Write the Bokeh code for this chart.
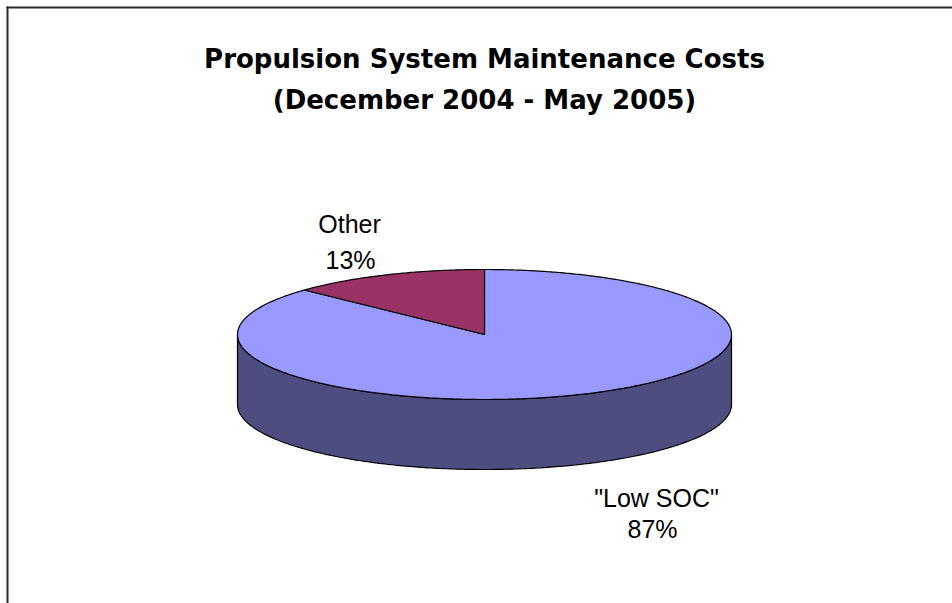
import numpy as np
from bokeh.plotting import figure
from bokeh.models import Range1d
from bokeh.embed import file_html
from bokeh.resources import INLINE
from bokeh.core.properties import value

# Chart data
categories = ['"Low SOC"', "Other"]
shares = [87, 13]
top_colors = ["#9999FF", "#993366"]
side_colors = ["#4D4D80", "#4D1A33"]
title_lines = ["Propulsion System Maintenance Costs", "(December 2004 - May 2005)"]

# Pie geometry (screen pixels, y grows downward)
CX, CY = 484, 334
RX, RY = 247, 65
DEPTH = 70
FONT = "Liberation Sans"
TITLE_FONT = "DejaVu Sans"

W, H = 952, 603
p = figure(width=W, height=H, output_backend="svg", toolbar_location=None,
           x_range=Range1d(0, W), y_range=Range1d(H, 0),
           min_border=0, outline_line_color=None)
p.axis.visible = False
p.grid.visible = False
p.background_fill_color = "white"
p.border_fill_color = "white"


def rim(angles_deg, drop=0.0):
    a = np.radians(angles_deg)
    return CX + RX * np.cos(a), CY - RY * np.sin(a) + drop


# slice angles: start at 12 o'clock, run clockwise
spans = []
start = 90.0
for s in shares:
    end = start - s / 100.0 * 360.0
    spans.append((start, end))
    start = end

# side walls: only the front half (angles between -180 and 0) is visible
for (a0, a1), col in zip(spans, side_colors):
    for k in (-360.0, 0.0, 360.0):
        lo = max(a1, -180.0 + k)
        hi = min(a0, 0.0 + k)
        if hi - lo <= 0.01:
            continue
        ang = np.linspace(hi, lo, 240)
        tx, ty = rim(ang)
        bx, by = rim(ang[::-1], DEPTH)
        p.patch(np.concatenate([tx, bx]), np.concatenate([ty, by]),
                fill_color=col, line_color="black", line_width=1.2)

# top faces
for (a0, a1), col in zip(spans, top_colors):
    ang = np.linspace(a0, a1, max(int(abs(a0 - a1) * 2), 20))
    ax, ay = rim(ang)
    p.patch(np.concatenate([[CX], ax, [CX]]), np.concatenate([[CY], ay, [CY]]),
            fill_color=col, line_color="black", line_width=1.2)

# data labels (name above, percentage below)
label_anchor = {"Other": (349, 223, 350, 259), '"Low SOC"': (656, 497, 652, 528)}
for name, share in zip(categories, shares):
    nx, ny, vx, vy = label_anchor[name]
    p.text(x=[nx], y=[ny], text=[name], text_font=value(FONT),
           text_font_size="25px", text_align="center",
           text_baseline="alphabetic", text_color="black")
    p.text(x=[vx], y=[vy], text=[f"{share}%"], text_font=value(FONT),
           text_font_size="25px", text_align="center",
           text_baseline="alphabetic", text_color="black")

# title
for line, base in zip(title_lines, (58, 99)):
    p.text(x=[484], y=[base], text=[line], text_font=value(TITLE_FONT),
           text_font_size="26px", text_font_style="bold",
           text_align="center", text_baseline="alphabetic", text_color="black")

# chart-area frame (top and left edges)
p.segment(x0=[6, 7], y0=[7, 6], x1=[W, 7], y1=[7, H],
          line_color="#2a2a2a", line_width=2)

open("out.html", "w").write(file_html(p, INLINE))
